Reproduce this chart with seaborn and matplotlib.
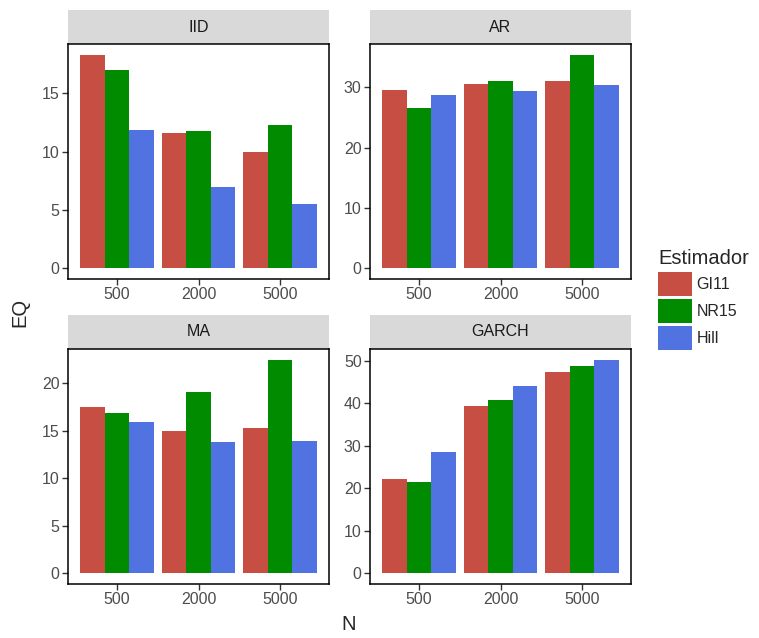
import pandas as pd
import seaborn as sns
import matplotlib.pyplot as plt
from matplotlib.patches import Rectangle
from matplotlib.ticker import MultipleLocator

# datos: EQ por modelo y tamaño de muestra N
modelos = ['IID', 'AR', 'MA', 'GARCH']
tamanos = ['500', '2000', '5000']
estimadores = ['GI11', 'NR15', 'Hill']
colores = ['#C74E43', '#008B00', '#5173E1']

# orden: IID(500,2000,5000), AR(...), MA(...), GARCH(...)
eq_gi11 = [18.3, 11.6, 9.95, 29.6, 30.6, 31.1, 17.5, 15.0, 15.3, 22.2, 39.5, 47.3]
eq_nr15 = [17.0, 11.75, 12.3, 26.5, 31.1, 35.4, 16.9, 19.05, 22.5, 21.5, 40.7, 48.7]
eq_hill = [11.85, 6.95, 5.5, 28.8, 29.3, 30.3, 15.9, 13.8, 13.9, 28.5, 44.0, 50.3]
pasos_y = [5, 10, 5, 10]

filas = []
for est, vals in zip(estimadores, [eq_gi11, eq_nr15, eq_hill]):
    k = 0
    for m in modelos:
        for n in tamanos:
            filas.append({'Modelo': m, 'N': n, 'Estimador': est, 'EQ': vals[k]})
            k += 1
df = pd.DataFrame(filas)

sns.set_style('white')
plt.rcParams['font.family'] = ['Liberation Sans', 'DejaVu Sans']

fig = plt.figure(figsize=(7.59, 6.38), dpi=100)
W, H = 759, 638
# posiciones de los paneles en pixeles (izq, arriba)
pos = {'IID': (68, 44), 'AR': (370, 44), 'MA': (68, 349), 'GARCH': (370, 349)}
pw, ph = 261, 235

handles = None
for m, paso in zip(modelos, pasos_y):
    x0, y0 = pos[m]
    ax = fig.add_axes([x0 / W, 1 - (y0 + ph) / H, pw / W, ph / H])
    sub = df[df['Modelo'] == m]
    sns.barplot(data=sub, x='N', y='EQ', hue='Estimador', order=tamanos,
                hue_order=estimadores, palette=colores, width=0.9, gap=0,
                errorbar=None, saturation=1, linewidth=0, edgecolor='none', ax=ax)
    if handles is None:
        handles, labels = ax.get_legend_handles_labels()
    ax.get_legend().remove()
    M = sub['EQ'].max()
    ax.set_ylim(-0.05 * M, 1.05 * M)
    ax.set_xlim(-0.6, 2.6)
    ax.yaxis.set_major_locator(MultipleLocator(paso))
    ax.set_xlabel('')
    ax.set_ylabel('')
    for s in ax.spines.values():
        s.set_visible(True)
        s.set_color('black')
        s.set_linewidth(1.1)
    ax.tick_params(axis='both', length=4, width=1, color='#333333',
                   labelcolor='#4D4D4D', labelsize=11.5, pad=2, direction='out',
                   bottom=True, left=True)
    # franja del titulo
    sh = 34 / ph
    ax.add_patch(Rectangle((0, 1), 1, sh, transform=ax.transAxes,
                           facecolor='#D9D9D9', edgecolor='none', clip_on=False))
    ax.text(0.5, 1 + sh / 2, m, transform=ax.transAxes, ha='center', va='center',
            fontsize=11.5, color='#1A1A1A')

for h in handles:
    h.set_edgecolor('none')
    h.set_linewidth(0)

fig.text(20 / W, 1 - 312 / H, 'EQ', rotation=90, ha='center', va='center', fontsize=14.5)
fig.text(349 / W, 1 - 625 / H, 'N', ha='center', va='center', fontsize=14.5)

fig.legend(handles, labels, title='Estimador', loc='upper left',
           bbox_to_anchor=(652 / W, 1 - 243 / H), frameon=False,
           fontsize=11.5, title_fontsize=14.5, handlelength=2.1, handleheight=1.95,
           labelspacing=0.2, handletextpad=0.3, borderaxespad=0, alignment='left')

plt.savefig('out.png', dpi=100)
